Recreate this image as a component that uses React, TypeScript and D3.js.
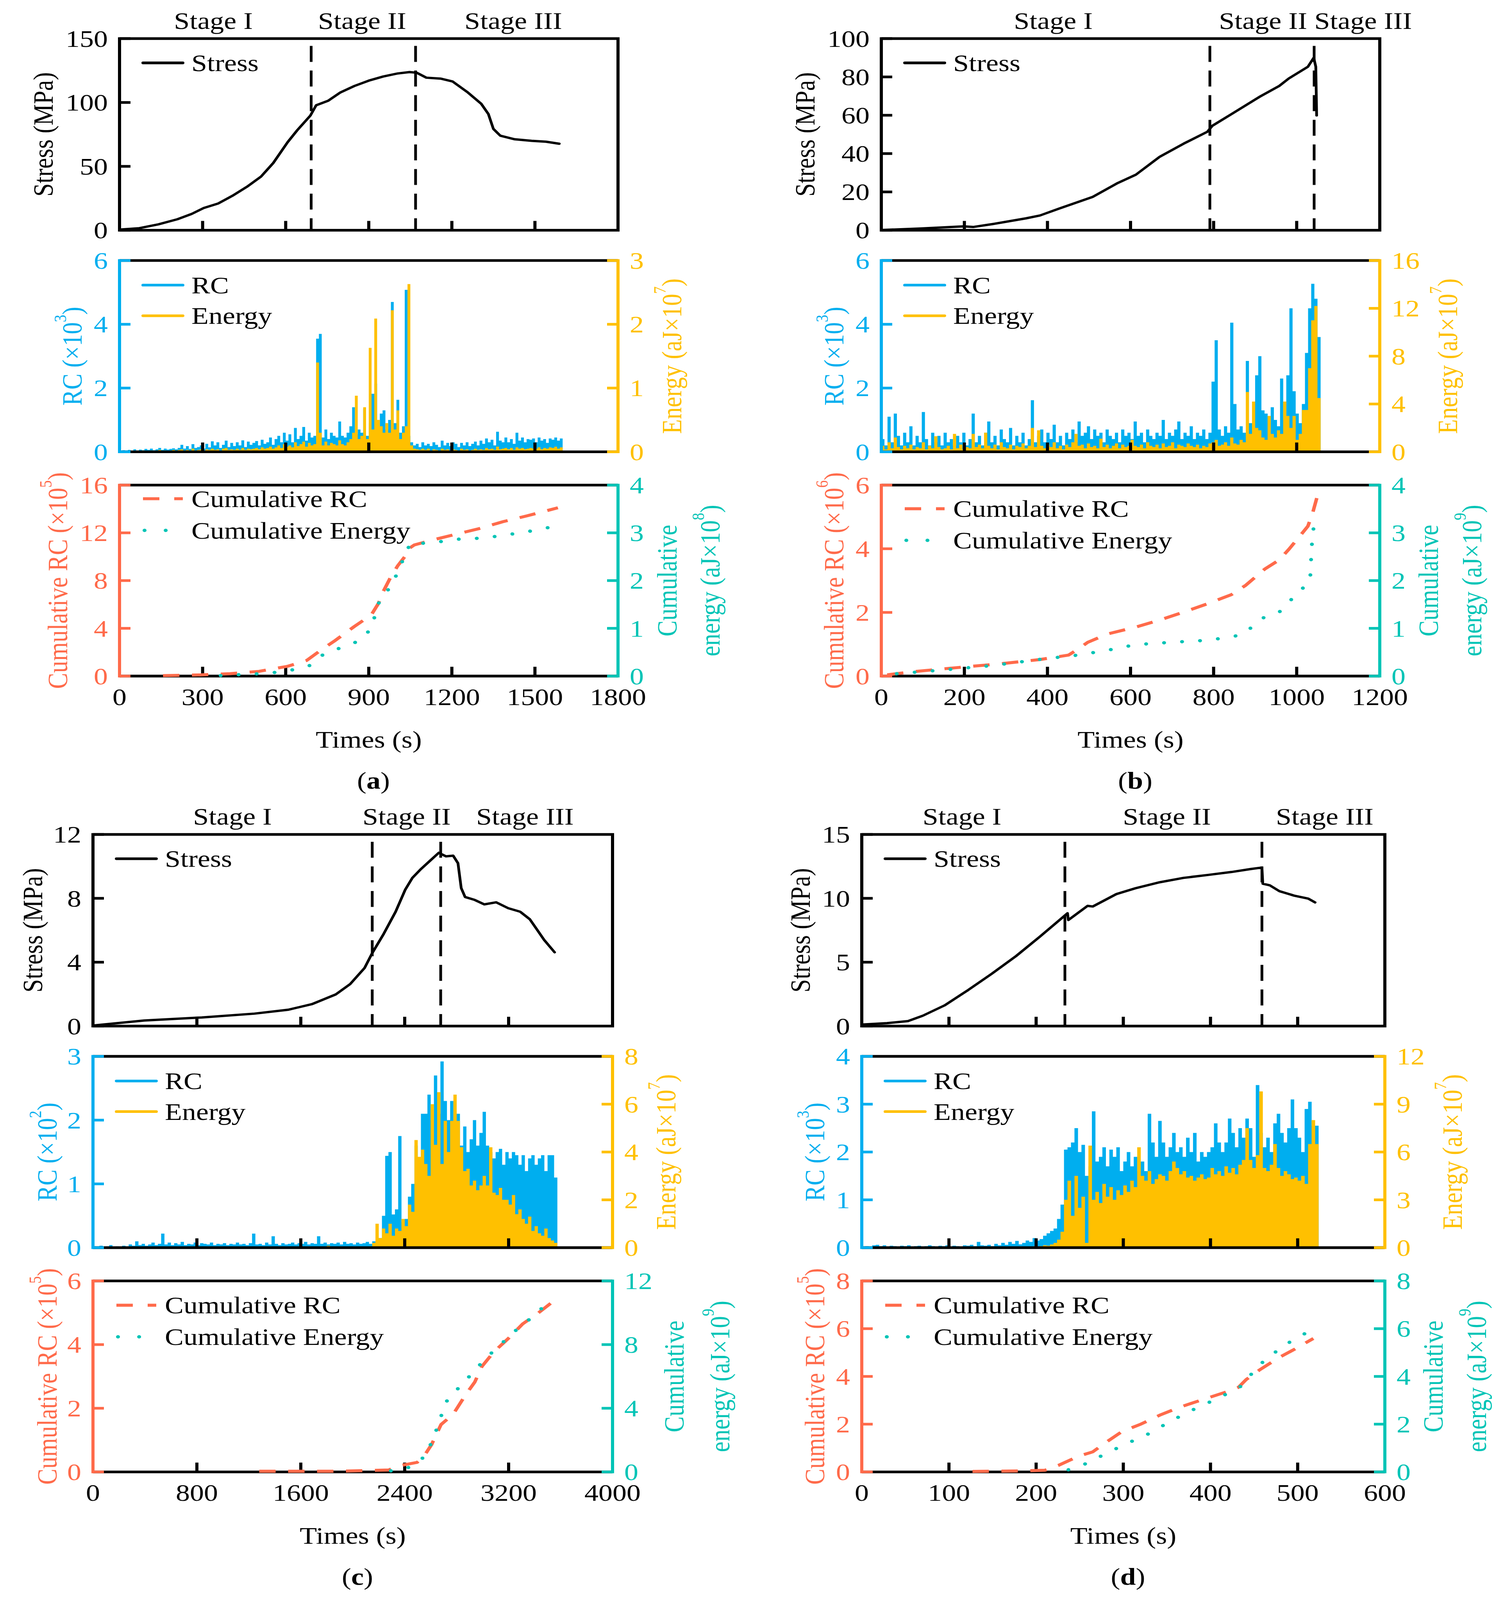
import React from 'react';
import * as d3 from 'd3';

const W = 3850;
const H = 4809;
const FONT = "'Liberation Serif','Times New Roman',Times,serif";
const FS = 72;
const C_RC = '#00AEEF';
const C_EN = '#FFC000';
const C_CRC = '#FF6A4A';
const C_CEN = '#00C4B6';

// ================= panel (a) =================
const xTicksA = [0, 300, 600, 900, 1200, 1500, 1800];
const stressTimeA = [0, 71, 140, 209, 261, 304, 356, 408, 460, 511, 555, 607, 641, 689, 710, 753, 797, 848, 900, 952, 1004, 1047, 1073, 1108, 1159, 1203, 1255, 1306, 1332, 1350, 1375, 1427, 1488, 1540, 1588];
const stressValA = [0.5, 1.6, 4.6, 8.6, 12.8, 17.4, 20.9, 27, 34, 42, 52.6, 68.9, 78.1, 89.7, 97.8, 101.3, 107.8, 112.9, 117.1, 120.3, 122.7, 123.8, 123.3, 119.4, 118.7, 116.4, 108.3, 99, 90.9, 79.3, 74, 71.2, 70, 69.3, 67.7];
const stressTicksA = [0, 50, 100, 150];
const stageNamesA = ['Stage I', 'Stage II', 'Stage III'];
const stageTimeA = [339, 876, 1422];
const boundaryA = [692, 1069];
const rcStepA = 10;
const rcA = [
  0.03, 0.05, 0.02, 0.06, 0.03, 0.08, 0.04, 0.07, 0.05, 0.09,
  0.06, 0.1, 0.05, 0.08, 0.12, 0.06, 0.1, 0.07, 0.09, 0.11,
  0.08, 0.12, 0.22, 0.1, 0.18, 0.09, 0.24, 0.12, 0.15, 0.2,
  0.1, 0.25, 0.14, 0.33, 0.2, 0.3, 0.12, 0.22, 0.35, 0.15,
  0.28, 0.18, 0.3, 0.2, 0.36, 0.15, 0.32, 0.22, 0.28, 0.34,
  0.2, 0.38, 0.25, 0.3, 0.45, 0.22, 0.4, 0.5, 0.3, 0.6,
  0.35, 0.55, 0.3, 0.75, 0.4, 0.5, 0.78, 0.35, 0.6, 0.45,
  0.5, 3.55, 3.7, 0.45, 0.7, 0.4, 0.6, 0.5, 0.45, 0.95,
  0.5, 0.45, 0.6, 0.8, 1.4, 0.55, 0.7, 0.6, 1.35, 0.5,
  0.9, 1.82, 2.14, 0.8, 1.2, 1.3, 0.7, 1.0, 4.7, 0.9,
  1.63, 0.6, 0.8, 5.08, 0.5, 0.3, 0.2, 0.25, 0.15, 0.3,
  0.2, 0.25, 0.18, 0.3, 0.22, 0.15, 0.35, 0.2, 0.28, 0.18,
  0.3, 0.25, 0.15, 0.28, 0.2, 0.3, 0.18, 0.25, 0.32, 0.2,
  0.35, 0.25, 0.42, 0.3, 0.38, 0.2, 0.63, 0.35, 0.3, 0.45,
  0.3, 0.4, 0.25, 0.6, 0.35, 0.45, 0.3, 0.4, 0.38, 0.42,
  0.3, 0.45, 0.35, 0.4, 0.28, 0.42, 0.38, 0.45, 0.35, 0.42,
];
const enA = [
  0.01, 0.01, 0, 0.02, 0.01, 0.01, 0.02, 0.01, 0.02, 0.01,
  0.01, 0.02, 0.01, 0.02, 0.03, 0.01, 0.02, 0.01, 0.02, 0.03,
  0.02, 0.03, 0.04, 0.02, 0.03, 0.02, 0.05, 0.02, 0.03, 0.04,
  0.02, 0.04, 0.03, 0.05, 0.03, 0.04, 0.02, 0.05, 0.06, 0.03,
  0.04, 0.03, 0.05, 0.03, 0.06, 0.03, 0.05, 0.04, 0.05, 0.06,
  0.04, 0.07, 0.05, 0.06, 0.08, 0.05, 0.07, 0.1, 0.06, 0.12,
  0.08, 0.1, 0.07, 0.15, 0.09, 0.12, 0.16, 0.08, 0.14, 0.1,
  0.12, 1.4, 0.3, 0.1, 0.16, 0.1, 0.14, 0.12, 0.1, 0.18,
  0.12, 0.1, 0.15, 0.2, 0.3, 0.88, 0.2, 0.25, 0.7, 0.2,
  1.63, 0.35, 2.09, 0.5, 0.4, 0.3, 0.45, 0.3, 2.22, 0.35,
  0.65, 0.2, 0.3, 0.4, 2.63, 0.1, 0.05, 0.04, 0.03, 0.05,
  0.03, 0.05, 0.02, 0.04, 0.03, 0.02, 0.05, 0.03, 0.04, 0.02,
  0.04, 0.03, 0.02, 0.05, 0.03, 0.04, 0.02, 0.03, 0.05, 0.03,
  0.04, 0.03, 0.06, 0.04, 0.05, 0.03, 0.08, 0.04, 0.05, 0.06,
  0.04, 0.06, 0.03, 0.07, 0.05, 0.06, 0.04, 0.05, 0.06, 0.05,
  0.05, 0.07, 0.04, 0.06, 0.05, 0.07, 0.06, 0.08, 0.05, 0.07,
];
const rcTicksA = [0, 2, 4, 6];
const enTicksA = [0, 1, 2, 3];
const cumRcTimeA = [157, 295, 399, 503, 607, 676, 728, 778, 847, 909, 935, 952, 978, 1004, 1030, 1039, 1064, 1125, 1211, 1298, 1384, 1471, 1583];
const cumRcValA = [0.04, 0.1, 0.2, 0.39, 0.82, 1.31, 2.19, 2.97, 4.14, 5.12, 6.09, 7.07, 8.24, 9.22, 10, 10.59, 10.98, 11.37, 11.86, 12.35, 12.93, 13.42, 14.1];
const cumEnTimeA = [365, 503, 572, 624, 684, 719, 762, 814, 866, 900, 918, 935, 961, 987, 1013, 1039, 1047, 1125, 1229, 1315, 1401, 1488, 1574];
const cumEnValA = [0.01, 0.05, 0.08, 0.13, 0.21, 0.4, 0.52, 0.62, 0.74, 0.94, 1.18, 1.52, 1.74, 1.94, 2.31, 2.6, 2.77, 2.79, 2.87, 2.89, 2.96, 3.04, 3.14];
const cumRcTicksA = [0, 4, 8, 12, 16];
const cumEnTicksA = [0, 1, 2, 3, 4];

// ================= panel (b) =================
const xTicksB = [0, 200, 400, 600, 800, 1000, 1200];
const stressTimeB = [2, 94, 198, 221, 267, 348, 382, 428, 509, 567, 613, 670, 728, 785, 797, 843, 912, 958, 981, 1027, 1041, 1046, 1048];
const stressValB = [0.15, 0.9, 2, 1.7, 3.2, 6.2, 7.7, 11.3, 17.4, 24.4, 29, 38.3, 45.2, 51.4, 54.5, 60.6, 69.8, 75.3, 79.2, 85.3, 90, 85.3, 59.9];
const stressTicksB = [0, 20, 40, 60, 80, 100];
const stageNamesB = ['Stage I', 'Stage II', 'Stage III'];
const stageTimeB = [414, 919, 1160];
const boundaryB = [791, 1042];
const rcStepB = 7.5;
const rcB = [
  0.4, 0.2, 1.1, 0.3, 1.2, 0.5, 0.2, 0.6, 0.3, 0.8,
  0.2, 0.5, 0.3, 1.25, 0.4, 0.2, 0.6, 0.3, 0.5, 0.2,
  0.6, 0.3, 0.4, 0.2, 0.5, 0.3, 0.6, 0.2, 0.4, 1.2,
  0.3, 0.5, 0.2, 0.6, 0.95, 0.3, 0.5, 0.2, 0.7, 0.4,
  0.3, 0.75, 0.2, 0.5, 0.3, 0.6, 0.2, 0.4, 1.62, 0.3,
  0.5, 0.7, 0.3, 0.6, 0.4, 0.85, 0.3, 0.5, 0.2, 0.6,
  0.4, 0.7, 0.3, 0.95, 0.5, 0.6, 0.8, 0.4, 0.7, 0.5,
  0.6, 0.3, 0.7, 0.5, 0.4, 0.6, 0.3, 0.7, 0.5, 0.6,
  0.4, 0.95, 0.5, 0.6, 0.3, 0.7, 0.5, 0.4, 0.6, 0.5,
  1.0, 0.4, 0.6, 0.5, 0.7, 0.95, 0.4, 0.6, 0.5, 0.8,
  0.4, 0.6, 0.5, 0.7, 0.4, 0.6, 2.2, 3.5, 0.7, 0.5,
  0.8, 0.6, 4.05, 1.5, 0.7, 0.8, 0.6, 2.85, 0.9, 0.7,
  2.4, 3.0, 1.3, 1.2, 0.9, 1.4, 1.0, 0.8, 2.3, 1.0,
  2.4, 4.5, 1.9, 1.2, 0.9, 1.5, 3.1, 4.5, 5.27, 4.8, 3.6,
];
const enB = [
  0.5, 0.2, 0.8, 0.3, 1.2, 0.4, 0.2, 0.5, 0.3, 0.6,
  0.2, 0.4, 0.3, 0.8, 0.2, 0.5, 0.3, 1.3, 0.4, 0.2,
  0.3, 0.5, 0.2, 1.5, 0.3, 0.6, 0.2, 0.4, 0.3, 1.5,
  0.4, 0.6, 0.3, 1.6, 0.5, 0.3, 0.6, 0.2, 0.8, 0.4,
  0.3, 0.6, 0.2, 0.5, 0.4, 0.7, 0.3, 0.5, 2.0, 0.4,
  1.8, 0.5, 0.3, 0.6, 0.4, 0.8, 0.3, 0.5, 0.2, 0.6,
  0.4, 0.8, 1.5, 0.5, 0.6, 0.3, 0.7, 0.4, 0.5, 0.3,
  1.1, 0.4, 0.6, 0.3, 0.5, 0.7, 0.3, 0.6, 0.4, 0.5,
  1.0, 0.5, 0.4, 0.6, 0.3, 0.8, 0.5, 0.4, 0.6, 0.3,
  0.7, 0.4, 0.5, 0.8, 0.3, 0.6, 0.5, 0.4, 0.7, 0.5,
  0.4, 0.6, 0.3, 0.5, 0.4, 0.7, 0.8, 1.0, 0.5, 0.6,
  0.8, 0.5, 1.2, 0.7, 0.6, 1.0, 0.8, 5.0, 1.5, 4.2,
  2.0, 1.8, 1.2, 1.0, 3.0, 1.5, 1.2, 1.8, 1.5, 4.2,
  3.0, 2.0, 3.0, 1.0, 1.5, 3.5, 3.5, 7.0, 11.0, 12.2, 4.5,
];
const rcTicksB = [0, 2, 4, 6];
const enTicksB = [0, 4, 8, 12, 16];
const cumRcTimeB = [14, 71, 152, 221, 290, 382, 451, 474, 497, 544, 613, 670, 728, 785, 843, 877, 923, 958, 981, 1004, 1027, 1039, 1050];
const cumRcValB = [0.04, 0.13, 0.23, 0.31, 0.39, 0.52, 0.66, 0.85, 1.06, 1.32, 1.54, 1.76, 2.01, 2.27, 2.56, 2.85, 3.36, 3.65, 3.98, 4.34, 4.71, 5.15, 5.67];
const cumEnTimeB = [37, 152, 267, 382, 474, 544, 613, 705, 785, 843, 872, 895, 923, 958, 981, 1004, 1025, 1033, 1036, 1041, 1046];
const cumEnValB = [0.05, 0.13, 0.22, 0.35, 0.44, 0.54, 0.66, 0.71, 0.75, 0.82, 0.88, 1.05, 1.24, 1.34, 1.54, 1.78, 1.9, 2.12, 2.7, 3.14, 3.33];
const cumRcTicksB = [0, 2, 4, 6];
const cumEnTicksB = [0, 1, 2, 3, 4];

// ================= panel (c) =================
const xTicksC = [0, 800, 1600, 2400, 3200, 4000];
const stressTimeC = [7, 394, 837, 1243, 1501, 1685, 1869, 1980, 2091, 2150, 2238, 2330, 2404, 2459, 2526, 2588, 2662, 2717, 2773, 2810, 2835, 2865, 2939, 3012, 3104, 3197, 3289, 3363, 3418, 3473, 3554];
const stressValC = [0.04, 0.35, 0.54, 0.78, 1.02, 1.37, 1.98, 2.63, 3.64, 4.57, 5.77, 7.16, 8.54, 9.28, 9.84, 10.3, 10.85, 10.63, 10.67, 10.2, 8.64, 8.08, 7.9, 7.62, 7.75, 7.38, 7.16, 6.69, 6.05, 5.4, 4.62];
const stressTicksC = [0, 4, 8, 12];
const stageNamesC = ['Stage I', 'Stage II', 'Stage III'];
const stageTimeC = [1074, 2415, 3326];
const boundaryC = [2150, 2677];
const rcStepC = 25;
const rcC = [
  0.02, 0.01, 0.03, 0.01, 0.02, 0.04, 0.01, 0.02, 0.01, 0.03,
  0.02, 0.05, 0.03, 0.1, 0.04, 0.06, 0.03, 0.05, 0.08, 0.04,
  0.06, 0.22, 0.05, 0.08, 0.04, 0.07, 0.05, 0.09, 0.04, 0.06,
  0.05, 0.08, 0.04, 0.07, 0.06, 0.05, 0.08, 0.04, 0.06, 0.05,
  0.07, 0.04, 0.06, 0.05, 0.08, 0.05, 0.06, 0.04, 0.07, 0.22,
  0.05, 0.06, 0.04, 0.08, 0.05, 0.18, 0.06, 0.04, 0.07, 0.05,
  0.06, 0.08, 0.05, 0.07, 0.06, 0.09, 0.05, 0.07, 0.06, 0.18,
  0.06, 0.08, 0.05, 0.07, 0.06, 0.08, 0.05, 0.09, 0.06, 0.07,
  0.05, 0.08, 0.06, 0.07, 0.09, 0.06, 0.1, 0.08, 0.15, 0.5,
  1.44, 1.5, 0.52, 0.6, 1.75, 0.4, 0.45, 0.8, 1.0, 1.6,
  1.2, 2.1, 2.1, 2.4, 2.0, 2.7, 2.1, 2.92, 2.3, 2.0,
  2.3, 1.8, 2.1, 1.6, 1.9, 1.5, 1.7, 2.0, 1.6, 1.8,
  2.13, 1.6, 1.5, 1.4, 1.5, 1.55, 1.3, 1.5, 1.4, 1.5,
  1.45, 1.3, 1.45, 1.2, 1.4, 1.45, 1.3, 1.4, 1.45, 1.2,
  1.45, 1.45, 1.1,
];
const enC = [
  0, 0, 0, 0, 0, 0, 0, 0, 0, 0,
  0, 0, 0, 0, 0, 0, 0, 0, 0, 0,
  0, 0.01, 0, 0, 0, 0, 0, 0, 0, 0,
  0, 0, 0, 0, 0, 0, 0, 0, 0, 0,
  0, 0, 0, 0, 0, 0, 0, 0, 0, 0.02,
  0, 0, 0, 0, 0, 0.01, 0, 0, 0, 0,
  0, 0, 0, 0, 0, 0, 0, 0, 0.05, 0.03,
  0.04, 0.02, 0.08, 0.03, 0.02, 0.05, 0.03, 0.04, 0.02, 0.05,
  0, 0, 0, 0, 0, 0, 0.2, 1.0, 0.4, 0.8,
  0.6, 1.0, 0.5, 0.8, 0.7, 1.2, 0.9, 1.8, 1.5, 4.5,
  3.8, 4.1, 3.5, 3.0, 6.0, 4.3, 6.5, 3.5, 5.3, 4.0,
  5.3, 6.4, 5.3, 4.2, 3.2, 3.3, 2.6, 2.8, 2.4, 2.6,
  3.0, 2.6, 4.2, 2.3, 2.2, 2.5, 2.0, 2.0, 1.8, 2.2,
  1.4, 1.6, 1.2, 1.0, 1.3, 0.7, 0.9, 0.6, 0.5, 0.8,
  0.4, 0.3, 0.2,
];
const rcTicksC = [0, 1, 2, 3];
const enTicksC = [0, 2, 4, 6, 8];
const cumRcTimeC = [1280, 1869, 2275, 2367, 2496, 2551, 2607, 2680, 2773, 2865, 2939, 2994, 3086, 3197, 3308, 3418, 3528];
const cumRcValC = [0.02, 0.02, 0.06, 0.2, 0.3, 0.51, 0.86, 1.49, 1.81, 2.4, 2.82, 3.31, 3.77, 4.19, 4.65, 4.96, 5.31];
const cumEnTimeC = [2293, 2422, 2515, 2570, 2625, 2662, 2717, 2791, 2846, 2920, 2975, 3049, 3141, 3252, 3381, 3492];
const cumEnValC = [0.07, 0.25, 0.67, 1.16, 2.22, 3.06, 4.39, 5.02, 5.65, 6.14, 6.7, 7.33, 8.03, 8.87, 9.72, 10.56];
const cumRcTicksC = [0, 2, 4, 6];
const cumEnTicksC = [0, 4, 8, 12];

// ================= panel (d) =================
const xTicksD = [0, 100, 200, 300, 400, 500, 600];
const stressTimeD = [1, 29, 53, 70, 95, 122, 149, 177, 204, 226, 236, 237, 259, 265, 292, 314, 342, 369, 397, 424, 446, 459, 460, 468, 479, 496, 512, 520];
const stressValD = [0.12, 0.23, 0.39, 0.81, 1.62, 2.82, 4.09, 5.48, 6.98, 8.25, 8.83, 8.3, 9.41, 9.36, 10.33, 10.79, 11.26, 11.6, 11.83, 12.06, 12.29, 12.41, 11.14, 11.02, 10.56, 10.21, 9.98, 9.68];
const stressTicksD = [0, 5, 10, 15];
const stageNamesD = ['Stage I', 'Stage II', 'Stage III'];
const stageTimeD = [115, 350, 531];
const boundaryD = [233, 459];
const rcStepD = 4;
const rcD = [
  0.02, 0.03, 0.02, 0.05, 0.06, 0.03, 0.05, 0.02, 0.04, 0.03,
  0.02, 0.04, 0.03, 0.05, 0.02, 0.03, 0.04, 0.02, 0.03, 0.05,
  0.03, 0.02, 0.04, 0.03, 0.05, 0.02, 0.04, 0.03, 0.02, 0.05,
  0.04, 0.06, 0.03, 0.12, 0.05, 0.04, 0.06, 0.03, 0.08, 0.05,
  0.1, 0.06, 0.12, 0.08, 0.14, 0.07, 0.1, 0.15, 0.12, 0.2,
  0.15, 0.18, 0.25, 0.3, 0.35, 0.4, 0.6, 0.9, 2.05, 2.1,
  2.2, 2.5, 2.0, 2.15, 1.5, 1.7, 2.85, 1.8, 1.9, 2.1,
  1.7, 2.05, 1.9, 2.1, 1.6, 1.8, 2.0, 1.7, 1.9, 1.6,
  1.8, 1.6, 2.8, 2.2, 1.9, 2.65, 2.2, 1.9, 2.1, 2.4,
  2.0, 2.1, 1.9, 2.3, 2.0, 2.4, 1.8, 2.0, 1.9, 2.0,
  2.1, 2.6, 2.2, 2.0, 2.2, 2.7, 2.4, 2.1, 2.5, 2.3,
  2.7, 2.5, 1.9, 3.4, 2.4, 2.1, 2.3, 2.0, 2.6, 2.8,
  2.4, 2.2, 2.5, 3.1, 2.5, 2.3, 2.0, 2.9, 3.05, 2.55,
  2.55,
];
const enD = [
  0, 0, 0, 0, 0, 0, 0, 0, 0, 0,
  0, 0, 0, 0, 0, 0, 0, 0, 0, 0,
  0, 0, 0, 0, 0, 0, 0, 0, 0, 0,
  0, 0, 0, 0, 0, 0, 0, 0, 0, 0,
  0, 0.02, 0, 0.03, 0, 0.02, 0.03, 0.05, 0.04, 0.08,
  0.06, 0.1, 0.15, 0.12, 0.2, 0.3, 0.5, 1.0, 3.0, 4.2,
  2.0, 4.5, 2.5, 3.2, 0.3, 6.4, 3.0, 3.5, 2.8, 4.0,
  3.2, 3.8, 3.0, 3.6, 3.3, 3.9, 3.5, 4.2, 3.8, 6.3,
  4.5, 4.2, 4.8, 4.0, 4.3, 4.6, 4.5, 4.2, 4.8, 5.4,
  5.0, 4.6, 4.8, 4.4, 4.5, 4.2, 4.4, 4.6, 4.3, 4.4,
  5.0, 4.6, 4.8, 4.5, 5.1, 4.7, 5.0, 4.6, 5.2, 5.5,
  7.5, 5.5, 5.0, 5.8, 9.8, 5.0, 4.8, 5.2, 6.5, 5.0,
  4.5, 4.8, 4.6, 4.3, 4.4, 4.2, 4.5, 4.0, 6.5, 8.0,
  6.5,
];
const rcTicksD = [0, 1, 2, 3, 4];
const enTicksD = [0, 3, 6, 9, 12];
const cumRcTimeD = [127, 182, 210, 226, 248, 265, 281, 298, 320, 342, 364, 391, 419, 432, 441, 457, 479, 496, 518];
const cumRcValD = [0.02, 0.04, 0.07, 0.28, 0.65, 0.84, 1.26, 1.68, 2.0, 2.38, 2.7, 3.03, 3.36, 3.54, 3.87, 4.29, 4.8, 5.13, 5.59];
const cumEnTimeD = [237, 259, 281, 303, 331, 353, 375, 397, 421, 435, 446, 457, 468, 479, 496, 510];
const cumEnValD = [0.09, 0.37, 0.79, 1.17, 1.63, 2.1, 2.52, 2.89, 3.31, 3.59, 4.06, 4.52, 4.8, 5.17, 5.55, 5.83];
const cumRcTicksD = [0, 2, 4, 6, 8];
const cumEnTicksD = [0, 2, 4, 6, 8];

// ================= layout =================
const panels = [
  {
    letter: 'a', x0: 306, x1: 1582, dy: 0, xMax: 1800, xTicks: xTicksA,
    sT: stressTimeA, sV: stressValA, sTicks: stressTicksA, stages: stageNamesA, stageT: stageTimeA, bounds: boundaryA,
    step: rcStepA, rc: rcA, en: enA, rcTicks: rcTicksA, enTicks: enTicksA, rcExp: '3', enExp: '7',
    cRcT: cumRcTimeA, cRcV: cumRcValA, cEnT: cumEnTimeA, cEnV: cumEnValA, cRcTicks: cumRcTicksA, cEnTicks: cumEnTicksA,
    cRcExp: '5', cEnExp: '8', cumLegDy: 41,
    lab: { s: -196, rc: -122, en: 137, crc: -159, ce1: 125, ce2: 235 },
  },
  {
    letter: 'b', x0: 2256, x1: 3532, dy: 0, xMax: 1200, xTicks: xTicksB,
    sT: stressTimeB, sV: stressValB, sTicks: stressTicksB, stages: stageNamesB, stageT: stageTimeB, bounds: boundaryB,
    step: rcStepB, rc: rcB, en: enB, rcTicks: rcTicksB, enTicks: enTicksB, rcExp: '3', enExp: '7',
    cRcT: cumRcTimeB, cRcV: cumRcValB, cEnT: cumEnTimeB, cEnV: cumEnValB, cRcTicks: cumRcTicksB, cEnTicks: cumEnTicksB,
    cRcExp: '6', cEnExp: '9', cumLegDy: 71,
    lab: { s: -196, rc: -122, en: 173, crc: -122, ce1: 124, ce2: 235 },
  },
  {
    letter: 'c', x0: 238, x1: 1568, dy: 2392, xMax: 4000, xTicks: xTicksC,
    sT: stressTimeC, sV: stressValC, sTicks: stressTicksC, stages: stageNamesC, stageT: stageTimeC, bounds: boundaryC,
    step: rcStepC, rc: rcC, en: enC, rcTicks: rcTicksC, enTicks: enTicksC, rcExp: '2', enExp: '7',
    cRcT: cumRcTimeC, cRcV: cumRcValC, cEnT: cumEnTimeC, cEnV: cumEnValC, cRcTicks: cumRcTicksC, cEnTicks: cumEnTicksC,
    cRcExp: '5', cEnExp: '9', cumLegDy: 73,
    lab: { s: -155, rc: -118, en: 136, crc: -118, ce1: 157, ce2: 274 },
  },
  {
    letter: 'd', x0: 2206, x1: 3545, dy: 2392, xMax: 600, xTicks: xTicksD,
    sT: stressTimeD, sV: stressValD, sTicks: stressTicksD, stages: stageNamesD, stageT: stageTimeD, bounds: boundaryD,
    step: rcStepD, rc: rcD, en: enD, rcTicks: rcTicksD, enTicks: enTicksD, rcExp: '3', enExp: '7',
    cRcT: cumRcTimeD, cRcV: cumRcValD, cEnT: cumEnTimeD, cEnV: cumEnValD, cRcTicks: cumRcTicksD, cEnTicks: cumEnTicksD,
    cRcExp: '5', cEnExp: '9', cumLegDy: 73,
    lab: { s: -158, rc: -121, en: 172, crc: -121, ce1: 123, ce2: 234 },
  },
];

const LW = 8; // frame line width
const TICK = 28;

function Sup({ pre, exp, post }: { pre: string; exp: string; post: string }) {
  return (
    <>
      {pre}
      <tspan dy={-30} fontSize={FS * 0.62}>{exp}</tspan>
      <tspan dy={30}>{post}</tspan>
    </>
  );
}

function RotLabel({ x, y, color, children }: any) {
  return (
    <text transform={`translate(${x},${y}) rotate(-90)`} textAnchor="middle" dominantBaseline="central" fill={color} fontSize={FS} fontFamily={FONT}>
      {children}
    </text>
  );
}

function Panel({ p }: { p: any }) {
  const { x0, x1, dy } = p;
  const sTop = 116 + dy, sBot = 692 + dy;
  const mTop = 783 + dy, mBot = 1358 + dy;
  const cTop = 1458 + dy, cBot = 2032 + dy;
  const xs = d3.scaleLinear().domain([0, p.xMax]).range([x0, x1]);
  const yS = d3.scaleLinear().domain([0, p.sTicks[p.sTicks.length - 1]]).range([sBot, sTop]);
  const yRc = d3.scaleLinear().domain([0, p.rcTicks[p.rcTicks.length - 1]]).range([mBot, mTop]);
  const yEn = d3.scaleLinear().domain([0, p.enTicks[p.enTicks.length - 1]]).range([mBot, mTop]);
  const yCRc = d3.scaleLinear().domain([0, p.cRcTicks[p.cRcTicks.length - 1]]).range([cBot, cTop]);
  const yCEn = d3.scaleLinear().domain([0, p.cEnTicks[p.cEnTicks.length - 1]]).range([cBot, cTop]);

  const stressLine = d3.line<number>().x((_, i) => xs(p.sT[i])).y((v) => yS(v))(p.sV) || '';
  const cRcLine = d3.line<number>().x((_, i) => xs(p.cRcT[i])).y((v) => yCRc(v))(p.cRcV) || '';
  const cEnLine = d3.line<number>().x((_, i) => xs(p.cEnT[i])).y((v) => yCEn(v))(p.cEnV) || '';
  const pxStep = xs(p.step) - xs(0);
  const stemW = pxStep * 1.02;
  const stems = (vals: number[], ys: any) =>
    vals.map((v: number, i: number) => `M${xs(i * p.step) + pxStep / 2},${ys(0)}V${ys(v)}`).join('');

  const innerTicks = p.xTicks.slice(1, -1);
  const cx = (x0 + x1) / 2;
  const legX1 = x0 + 60, legX2 = x0 + 162, legTx = x0 + 184;

  const yTicks = (ticks: number[], ys: any, x: number, dir: number, color: string) => (
    <g>
      {ticks.map((t) => (
        <g key={t}>
          <line x1={x} x2={x + dir * TICK} y1={ys(t)} y2={ys(t)} stroke={color} strokeWidth={LW} />
          <text x={dir > 0 ? x - 30 : x + 30} y={ys(t)} textAnchor={dir > 0 ? 'end' : 'start'} dominantBaseline="central" fill={color} fontSize={FS} fontFamily={FONT}>{t}</text>
        </g>
      ))}
    </g>
  );
  const xTickMarks = (bot: number) =>
    innerTicks.map((t: number) => (
      <line key={t} x1={xs(t)} x2={xs(t)} y1={bot} y2={bot - TICK} stroke="#000" strokeWidth={LW} />
    ));

  return (
    <g>
      {p.stages.map((s: string, i: number) => (
        <text key={s} x={xs(p.stageT[i])} y={62 + dy} textAnchor="middle" dominantBaseline="central" fontSize={FS} fontFamily={FONT}>{s}</text>
      ))}

      {/* ---------- stress ---------- */}
      {p.bounds.map((b: number) => (
        <line key={b} x1={xs(b)} x2={xs(b)} y1={sTop + 22} y2={sBot} stroke="#000" strokeWidth={7} strokeDasharray="48 26" />
      ))}
      <path d={stressLine} fill="none" stroke="#000" strokeWidth={7} strokeLinejoin="round" strokeLinecap="round" />
      <rect x={x0} y={sTop} width={x1 - x0} height={sBot - sTop} fill="none" stroke="#000" strokeWidth={LW} />
      {xTickMarks(sBot)}
      {yTicks(p.sTicks, yS, x0, 1, '#000')}
      <line x1={legX1} x2={legX2} y1={sTop + 73} y2={sTop + 73} stroke="#000" strokeWidth={LW} strokeLinecap="round" />
      <text x={legTx} y={sTop + 73} dominantBaseline="central" fontSize={FS} fontFamily={FONT}>Stress</text>
      <RotLabel x={x0 + p.lab.s} y={(sTop + sBot) / 2} color="#000">Stress (MPa)</RotLabel>

      {/* ---------- RC / energy ---------- */}
      <path d={stems(p.rc, yRc)} stroke={C_RC} strokeWidth={stemW} fill="none" />
      <path d={stems(p.en, yEn)} stroke={C_EN} strokeWidth={stemW} fill="none" />
      <line x1={x0} x2={x1} y1={mTop} y2={mTop} stroke="#000" strokeWidth={LW} />
      <line x1={x0} x2={x1} y1={mBot} y2={mBot} stroke="#000" strokeWidth={LW} />
      {xTickMarks(mBot)}
      <line x1={x0} x2={x0} y1={mTop - LW / 2} y2={mBot + LW / 2} stroke={C_RC} strokeWidth={LW} />
      <line x1={x1} x2={x1} y1={mTop - LW / 2} y2={mBot + LW / 2} stroke={C_EN} strokeWidth={LW} />
      {yTicks(p.rcTicks, yRc, x0, 1, C_RC)}
      {yTicks(p.enTicks, yEn, x1, -1, C_EN)}
      <line x1={legX1} x2={legX2} y1={mTop + 74} y2={mTop + 74} stroke={C_RC} strokeWidth={LW} strokeLinecap="round" />
      <text x={legTx} y={mTop + 74} dominantBaseline="central" fontSize={FS} fontFamily={FONT}>RC</text>
      <line x1={legX1} x2={legX2} y1={mTop + 166} y2={mTop + 166} stroke={C_EN} strokeWidth={LW} strokeLinecap="round" />
      <text x={legTx} y={mTop + 166} dominantBaseline="central" fontSize={FS} fontFamily={FONT}>Energy</text>
      <RotLabel x={x0 + p.lab.rc} y={(mTop + mBot) / 2} color={C_RC}><Sup pre="RC (×10" exp={p.rcExp} post=")" /></RotLabel>
      <RotLabel x={x1 + p.lab.en} y={(mTop + mBot) / 2} color={C_EN}><Sup pre="Energy (aJ×10" exp={p.enExp} post=")" /></RotLabel>

      {/* ---------- cumulative ---------- */}
      <line x1={x0} x2={x1} y1={cTop} y2={cTop} stroke="#000" strokeWidth={LW} />
      <line x1={x0} x2={x1} y1={cBot} y2={cBot} stroke="#000" strokeWidth={LW} />
      {xTickMarks(cBot)}
      <path d={cRcLine} fill="none" stroke={C_CRC} strokeWidth={9} strokeDasharray="42 32" />
      <path d={cEnLine} fill="none" stroke={C_CEN} strokeWidth={10} strokeDasharray="0.1 46" strokeLinecap="round" />
      <line x1={x0} x2={x0} y1={cTop - LW / 2} y2={cBot + LW / 2} stroke={C_CRC} strokeWidth={LW} />
      <line x1={x1} x2={x1} y1={cTop - LW / 2} y2={cBot + LW / 2} stroke={C_CEN} strokeWidth={LW} />
      {yTicks(p.cRcTicks, yCRc, x0, 1, C_CRC)}
      {yTicks(p.cEnTicks, yCEn, x1, -1, C_CEN)}
      <line x1={legX1} x2={legX2} y1={cTop + p.cumLegDy} y2={cTop + p.cumLegDy} stroke={C_CRC} strokeWidth={9} strokeDasharray="42 38" />
      <text x={legTx} y={cTop + p.cumLegDy} dominantBaseline="central" fontSize={FS} fontFamily={FONT}>Cumulative RC</text>
      <line x1={legX1 + 4} x2={legX2} y1={cTop + p.cumLegDy + 95} y2={cTop + p.cumLegDy + 95} stroke={C_CEN} strokeWidth={10} strokeDasharray="0.1 54" strokeLinecap="round" />
      <text x={legTx} y={cTop + p.cumLegDy + 95} dominantBaseline="central" fontSize={FS} fontFamily={FONT}>Cumulative Energy</text>
      <RotLabel x={x0 + p.lab.crc} y={(cTop + cBot) / 2} color={C_CRC}><Sup pre="Cumulative RC (×10" exp={p.cRcExp} post=")" /></RotLabel>
      <RotLabel x={x1 + p.lab.ce1} y={(cTop + cBot) / 2} color={C_CEN}>Cumulative</RotLabel>
      <RotLabel x={x1 + p.lab.ce2} y={(cTop + cBot) / 2} color={C_CEN}><Sup pre="energy (aJ×10" exp={p.cEnExp} post=")" /></RotLabel>

      {p.xTicks.map((t: number) => (
        <text key={t} x={xs(t)} y={cBot + 62} textAnchor="middle" dominantBaseline="central" fontSize={FS} fontFamily={FONT}>{t}</text>
      ))}
      <text x={cx} y={cBot + 191} textAnchor="middle" dominantBaseline="central" fontSize={FS} fontFamily={FONT}>Times (s)</text>
      <text x={cx + 12} y={cBot + 314} textAnchor="middle" dominantBaseline="central" fontSize={FS} fontFamily={FONT}>
        (<tspan fontWeight="bold">{p.letter}</tspan>)
      </text>
    </g>
  );
}

export default function App() {
  return (
    <svg
      viewBox={`0 0 ${W} ${H}`}
      preserveAspectRatio="none"
      style={{ position: 'fixed', left: 0, top: 0, width: '100vw', height: '100vh', display: 'block', background: '#fff' }}
    >
      <rect x={0} y={0} width={W} height={H} fill="#fff" />
      {panels.map((p) => (
        <Panel key={p.letter} p={p} />
      ))}
    </svg>
  );
}
